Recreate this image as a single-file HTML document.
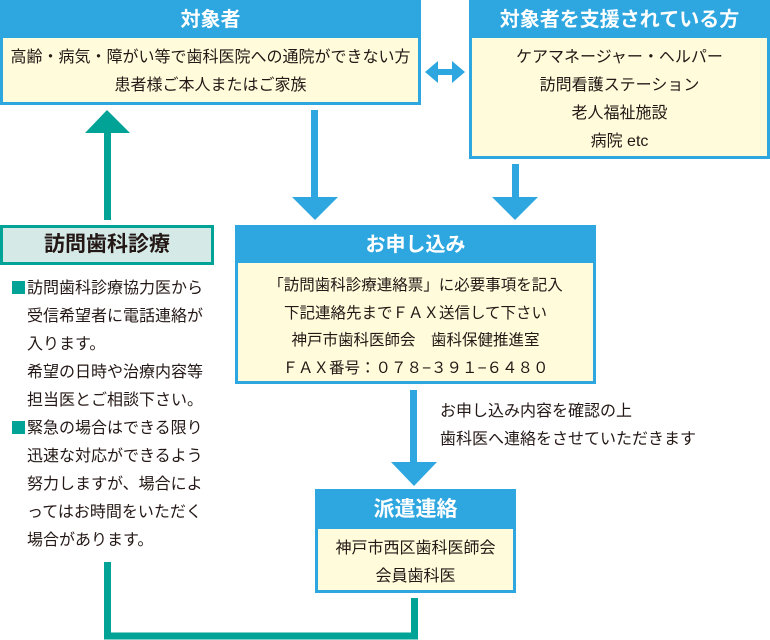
<!DOCTYPE html>
<html><head><meta charset="utf-8"><style>
*{margin:0;padding:0;box-sizing:border-box}
body{width:770px;height:640px;background:#fff;position:relative;overflow:hidden;font-family:"Liberation Sans","Noto Sans CJK JP",sans-serif;color:#231815}
.box{position:absolute;border:3px solid #2ea7e0;background:#fffbdb}
.hd{background:#2ea7e0;color:#fff;font-weight:bold;font-size:20px;text-align:center}
.bd{font-size:15.5px;text-align:center;white-space:nowrap}
.a{position:absolute}
.t{position:absolute;font-size:16px;white-space:nowrap}
.sq{display:inline-block;width:13px;height:13px;background:#00a395;margin:0 2px 0 0;vertical-align:-1px}
</style></head><body>
<div class="box" style="left:0;top:0;width:421px;height:105px">
<div class="hd" style="height:38px;line-height:40px;margin:-3px -3px 0">対象者</div>
<div class="bd" style="line-height:28px;padding-top:6px;font-size:16px">高齢・病気・障がい等で歯科医院への通院ができない方<br>患者様ご本人またはご家族</div></div>
<div class="box" style="left:469px;top:0;width:301px;height:159px">
<div class="hd" style="height:38px;line-height:40px;margin:-3px -3px 0">対象者を支援されている方</div>
<div class="bd" style="line-height:28px;padding-top:6px;font-size:16px">ケアマネージャー・ヘルパー<br>訪問看護ステーション<br>老人福祉施設<br>病院 etc</div></div>
<svg class="a" style="left:0;top:0" width="770" height="640">
<polygon points="425,72 438,61 438,69 452,69 452,61 465,72 452,83 452,75 438,75 438,83" fill="#2ea7e0"/>
<rect x="311" y="110" width="7" height="88" fill="#2ea7e0"/><polygon points="292,197 338,197 315,220" fill="#2ea7e0"/>
<rect x="512" y="164" width="7" height="34" fill="#2ea7e0"/><polygon points="492,197 538,197 515,220" fill="#2ea7e0"/>
<rect x="104" y="132" width="7" height="88" fill="#00a395"/><polygon points="85,133 130,133 107,110" fill="#00a395"/>
<rect x="410" y="390" width="7" height="74" fill="#2ea7e0"/><polygon points="391,462 437,462 414,486" fill="#2ea7e0"/>
<path d="M107.5 562 V636 H414.5 V598" fill="none" stroke="#00a395" stroke-width="7"/>
</svg>
<div class="a" style="left:0;top:225px;width:214px;height:40px;border:3px solid #00a395;background:#d5e9e6;text-align:center;font-size:21px;font-weight:bold;line-height:34px">訪問歯科診療</div>
<div class="t" style="left:12px;top:275px;line-height:28px">
<span class="sq"></span>訪問歯科診療協力医から<br><span style="padding-left:15px">受信希望者に電話連絡が</span><br><span style="padding-left:15px">入ります。</span><br><span style="padding-left:15px">希望の日時や治療内容等</span><br><span style="padding-left:15px">担当医とご相談下さい。</span><br><span class="sq"></span>緊急の場合はできる限り<br><span style="padding-left:15px">迅速な対応ができるよう</span><br><span style="padding-left:15px">努力しますが、場合によ</span><br><span style="padding-left:15px">ってはお時間をいただく</span><br><span style="padding-left:15px">場合があります。</span></div>
<div class="box" style="left:235px;top:225px;width:361px;height:159px">
<div class="hd" style="height:38px;line-height:40px;margin:-3px -3px 0">お申し込み</div>
<div class="bd" style="line-height:27.5px;padding-top:9px">「訪問歯科診療連絡票」に必要事項を記入<br>下記連絡先までＦＡＸ送信して下さい<br>神戸市歯科医師会　歯科保健推進室<br>ＦＡＸ番号：０７８−３９１−６４８０</div></div>
<div class="t" style="left:440px;top:398px;line-height:28px">お申し込み内容を確認の上<br>歯科医へ連絡をさせていただきます</div>
<div class="box" style="left:315px;top:489px;width:201px;height:104px">
<div class="hd" style="height:40px;line-height:42px;margin:-3px -3px 0;font-size:21px">派遣連絡</div>
<div class="bd" style="line-height:28px;padding-top:6px;font-size:16px">神戸市西区歯科医師会<br>会員歯科医</div></div>
</body></html>
